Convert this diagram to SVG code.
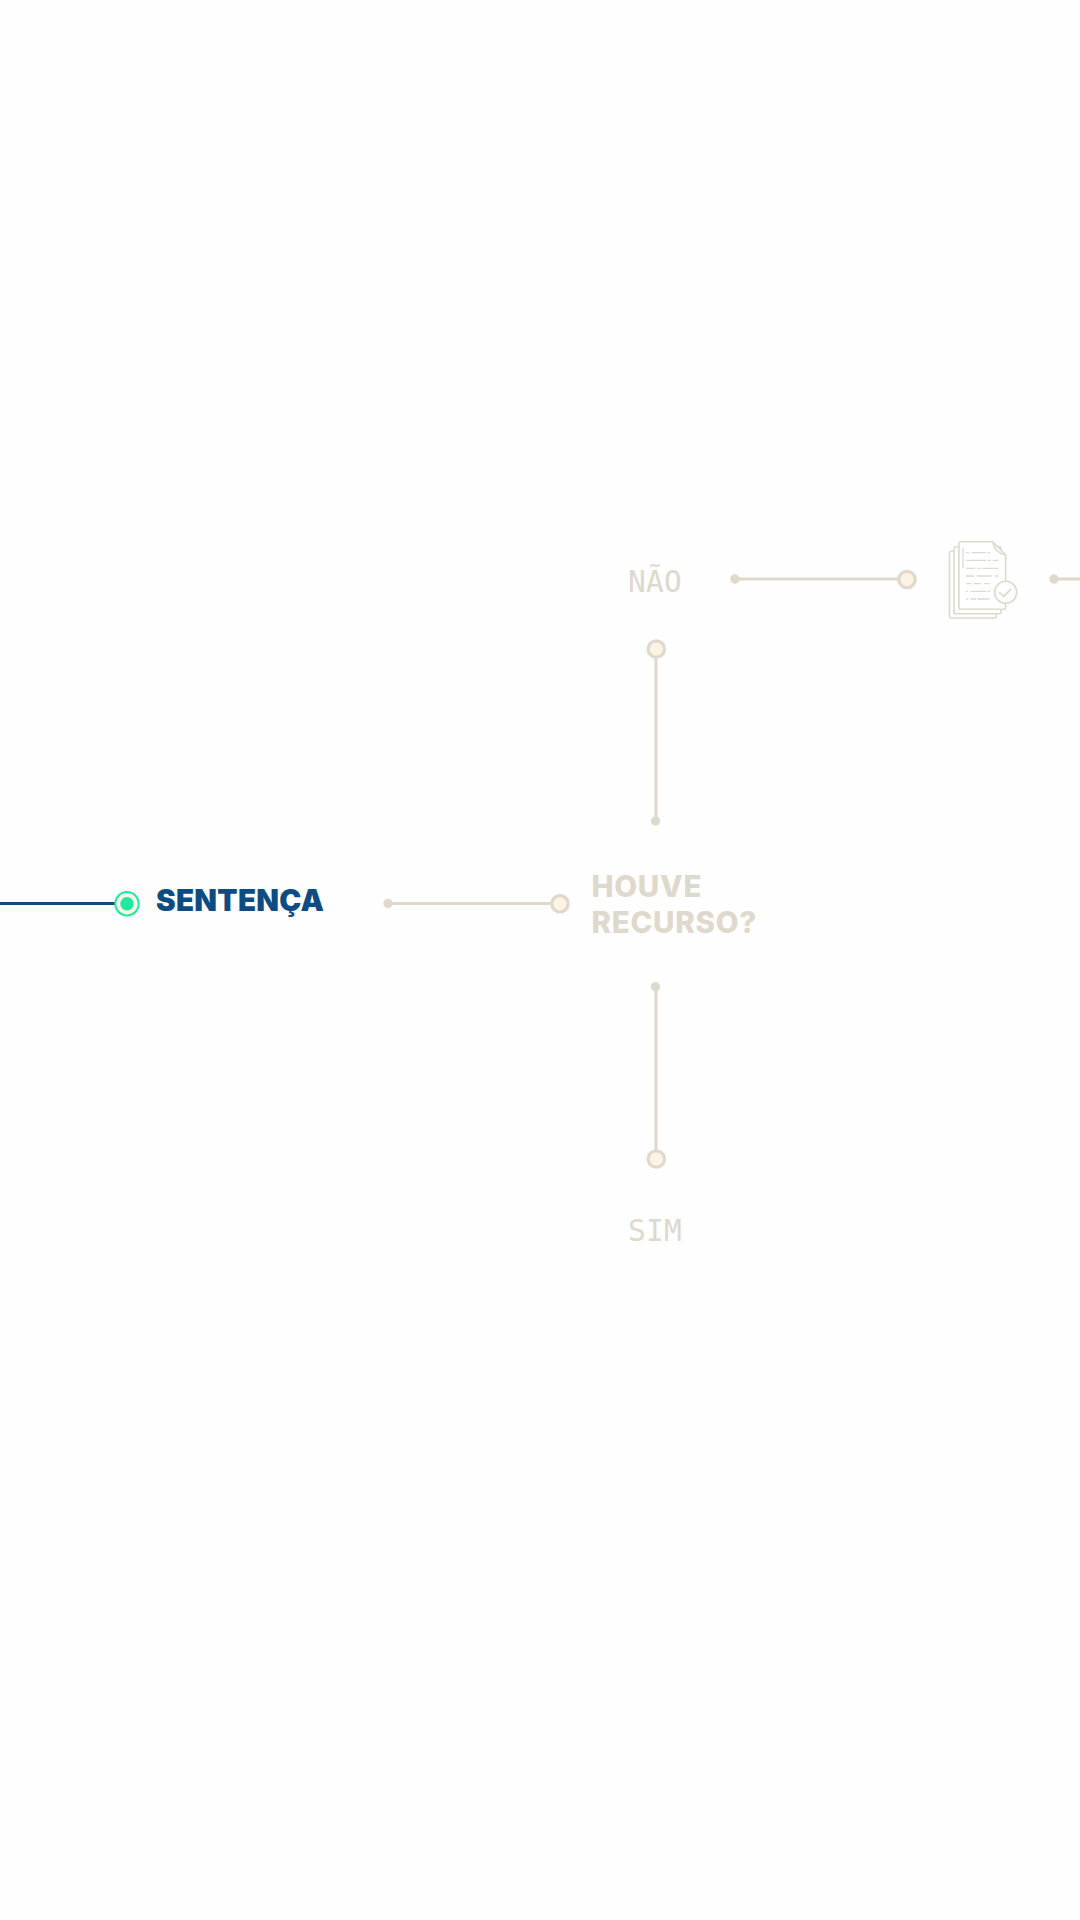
<svg xmlns="http://www.w3.org/2000/svg" width="1080" height="1920" viewBox="0 0 1080 1920">
<style>
.ln{fill:none;stroke:#dfd8cc;stroke-width:3}
.dot{fill:#dfd8cc}
.end{fill:#fdf3e5;stroke:#dfd8cc;stroke-width:3.2}
.ttl{font-family:Inter,"Liberation Sans",sans-serif;font-size:29.5px;font-weight:800;fill:#dfd8cc;letter-spacing:.72px}
.mono{font-family:"DejaVu Sans Mono","Liberation Mono",monospace;font-size:29.5px;fill:#dfd8cc;text-anchor:middle;letter-spacing:.3px}
.sheet{fill:#fff;stroke:#dfd8cc;stroke-width:1.6;stroke-linejoin:round}
.tx{fill:none;stroke:#dfd8cc;stroke-width:1.3}
</style>
<rect width="1080" height="1920" fill="#fefefe"/>
<g id="connectors">
<line x1="0" y1="903.5" x2="115" y2="903.5" stroke="#0d4c82" stroke-width="3"/>
<line class="ln" x1="388" y1="903.5" x2="552" y2="903.5"/>
<circle class="dot" cx="388" cy="903.5" r="4.7"/>
<circle class="end" cx="560" cy="903.8" r="8.2"/>
<line class="ln" x1="735" y1="579" x2="899" y2="579"/>
<circle class="dot" cx="735" cy="579" r="4.7"/>
<circle class="end" cx="907" cy="579.5" r="8.2"/>
<line class="ln" x1="1054" y1="579" x2="1080" y2="579"/>
<circle class="dot" cx="1054" cy="579" r="4.7"/>
<line class="ln" x1="656" y1="657" x2="656" y2="821"/>
<circle class="end" cx="656.3" cy="649" r="8.2"/>
<circle class="dot" cx="655.5" cy="821" r="4.7"/>
<line class="ln" x1="656" y1="987" x2="656" y2="1151"/>
<circle class="dot" cx="655.5" cy="986.7" r="4.7"/>
<circle class="end" cx="656.3" cy="1159" r="8.2"/>
</g>
<g id="node-sentenca">
<circle cx="127" cy="903.7" r="11.7" fill="#fdf3e5" stroke="#1de9a0" stroke-width="2"/>
<circle cx="127" cy="903.7" r="6.7" fill="#1de9a0"/>
<text class="ttl" x="156" y="910.7" style="font-weight:900;fill:#0d4c82;letter-spacing:.3px">SENTENÇA</text>
</g>
<g id="node-recurso">
<text class="ttl" x="591.5" y="896.7">HOUVE</text>
<text class="ttl" x="591.5" y="932.7">RECURSO?</text>
</g>
<g id="node-nao"><text class="mono" x="655" y="591.7">NÃO</text></g>
<g id="node-sim"><text class="mono" x="655" y="1241">SIM</text></g>
<g id="node-doc">
<rect class="sheet" x="949.5" y="551" width="46.8" height="67" rx="2"/>
<rect class="sheet" x="954" y="546.7" width="47" height="67" rx="2"/>
<path class="sheet" d="M961 541.7H992.7L1005.7 555V607.3a2 2 0 0 1-2 2H961a2 2 0 0 1-2-2V543.7a2 2 0 0 1 2-2Z"/>
<path class="tx" style="stroke-width:1.6" d="M992.7 541.7Q994.5 553 1005.7 555"/>
<path class="tx" d="M963 548.3V568.3M966 552.7h3.3M971.7 552.7h14.3M987.3 552.7h2.7M966 560.3h20M987.3 560.3h3.4M992.7 560.3h5.6M966 568.3h9.3M977.3 568.3h3.7M982.7 568.3h15.6M966 576h8M976.7 576h15M995 576h3.3M966 583.7h5.3M974 583.7h7M984 583.7h6M966 591.3h2.3M970.7 591.3h15.3M987.3 591.3h2.7M966 599h2.3M970.7 599h5.3M977.3 599h12"/>
<circle cx="1005.7" cy="592.3" r="11" fill="#fff" stroke="#dfd8cc" stroke-width="1.6"/>
<path d="M999.3 592.3l4.3 4.3 7.4-7.7" fill="none" stroke="#dfd8cc" stroke-width="1.6"/>
</g>
</svg>
